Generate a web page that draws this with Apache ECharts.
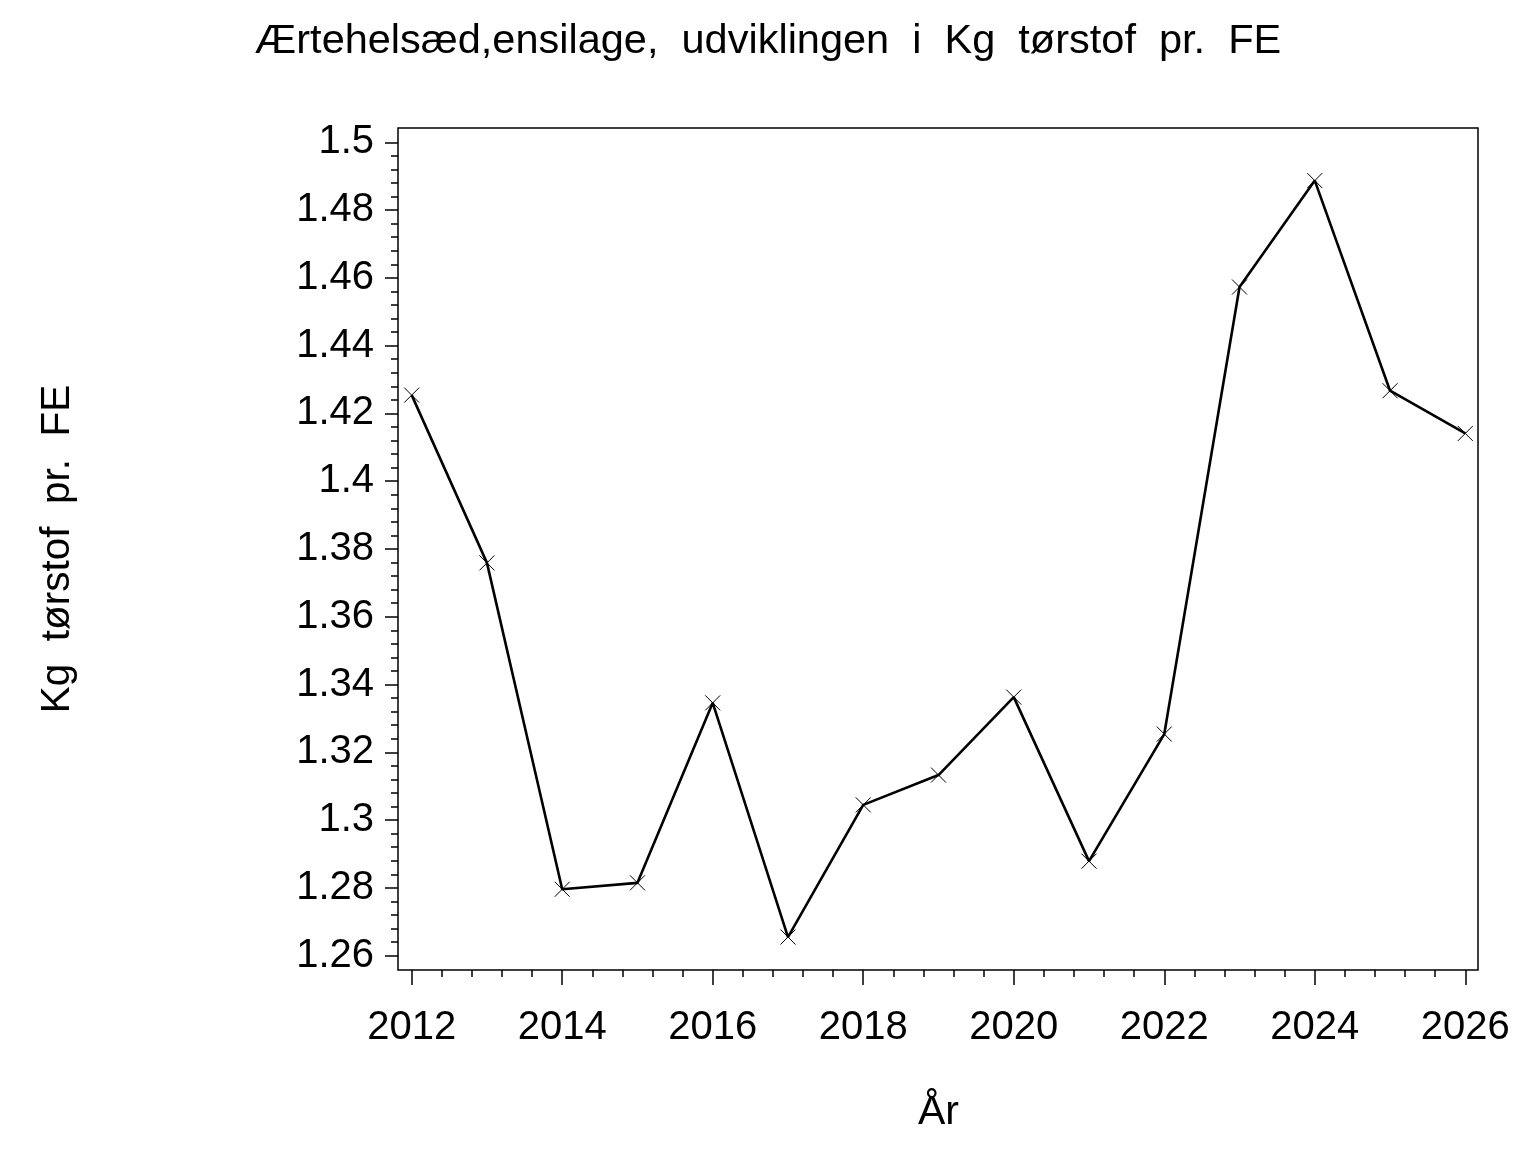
<!DOCTYPE html>
<html>
<head>
<meta charset="utf-8">
<script src="https://cdn.jsdelivr.net/npm/echarts@6/dist/echarts.min.js"></script>
<style>
  html, body { margin: 0; padding: 0; background: #fff; }
  #chart { width: 1536px; height: 1152px; }
</style>
</head>
<body>
<div id="chart"></div>
<script>
var years = [2012, 2013, 2014, 2015, 2016, 2017, 2018, 2019, 2020, 2021, 2022, 2023, 2024, 2025, 2026];
var values = [1.4254, 1.3759, 1.2796, 1.2815, 1.3346, 1.2655, 1.3045, 1.3133, 1.3363, 1.2879, 1.3254, 1.4573, 1.4887, 1.4267, 1.4141];

var titleText = 'Ærtehelsæd,ensilage,  udviklingen  i  Kg  tørstof  pr.  FE';
var xName = 'År';
var yName = 'Kg  tørstof  pr.  FE';

var font = 'Liberation Sans';

var points = [];
for (var i = 0; i < years.length; i++) {
    points.push([years[i], values[i]]);
}

var myChart = echarts.init(document.getElementById('chart'), null, { renderer: 'canvas' });

var option = {
    backgroundColor: '#fff',
    animation: false,
    title: {
        text: titleText,
        left: 'center',
        top: 16,
        textStyle: { fontFamily: font, fontSize: 41.5, fontWeight: 'normal', color: '#000' }
    },
    grid: [
        // outer frame box
        { left: 398, right: 58, top: 128, bottom: 182, show: true, borderColor: '#000', borderWidth: 1.5, backgroundColor: 'transparent' },
        // data area, 2012..2026 and 1.26..1.5
        { left: 411.7, right: 70.7, top: 142.3, bottom: 196.3 }
    ],
    xAxis: [
        { gridIndex: 0, type: 'value', show: false },
        {
            gridIndex: 1,
            type: 'value',
            min: 2012,
            max: 2026,
            interval: 2,
            offset: 14.3,
            name: xName,
            nameLocation: 'middle',
            nameGap: 122,
            nameTextStyle: { fontFamily: font, fontSize: 41, color: '#000' },
            axisLine: { show: false },
            axisTick: { show: true, length: 15, lineStyle: { color: '#000', width: 1.5 } },
            minorTick: { show: true, splitNumber: 5, length: 7, lineStyle: { color: '#000', width: 1.5 } },
            splitLine: { show: false },
            axisLabel: { fontFamily: font, fontSize: 40, color: '#000', margin: 38, formatter: function (v) { return String(v); } }
        }
    ],
    yAxis: [
        { gridIndex: 0, type: 'value', show: false },
        {
            gridIndex: 1,
            type: 'value',
            min: 1.26,
            max: 1.5,
            interval: 0.02,
            offset: 13.7,
            name: yName,
            nameLocation: 'middle',
            nameRotate: 90,
            nameGap: 320,
            nameTextStyle: { fontFamily: font, fontSize: 40.5, color: '#000' },
            axisLine: { show: false },
            axisTick: { show: true, length: 13, lineStyle: { color: '#000', width: 1.5 } },
            minorTick: { show: true, splitNumber: 5, length: 7, lineStyle: { color: '#000', width: 1.5 } },
            splitLine: { show: false },
            axisLabel: { fontFamily: font, fontSize: 40, color: '#000', margin: 24 }
        }
    ],
    series: [{
        type: 'line',
        xAxisIndex: 1,
        yAxisIndex: 1,
        data: points,
        showSymbol: true,
        showAllSymbol: true,
        symbol: 'path://M0 0L10 10M10 0L0 10',
        symbolSize: 15,
        lineStyle: { color: '#000', width: 2.6 },
        itemStyle: { color: 'none', borderColor: '#000', borderWidth: 1 }
    }]
};

myChart.setOption(option);
</script>
</body>
</html>
